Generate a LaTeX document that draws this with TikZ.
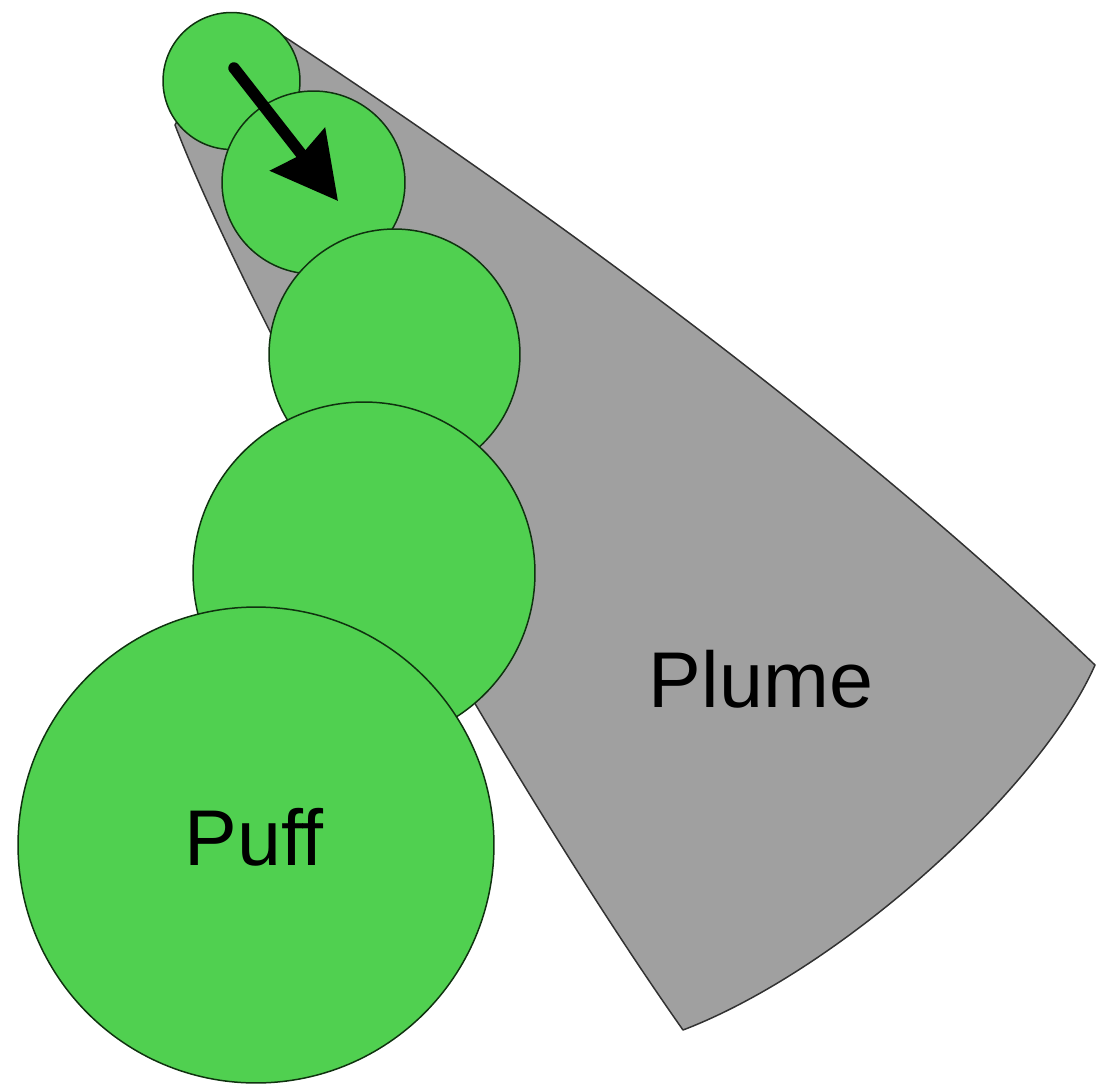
\documentclass[tikz,border=0pt]{standalone}
\usepackage{fontspec}
\setmainfont{Liberation Sans}[Ligatures=NoCommon]
\usetikzlibrary{arrows.meta}
\definecolor{puffgreen}{RGB}{80,208,80}
\definecolor{puffline}{RGB}{15,50,15}
\definecolor{plumegray}{RGB}{160,160,160}
\definecolor{plumeline}{RGB}{50,50,50}
\begin{document}
\begin{tikzpicture}[x=0.02cm,y=-0.02cm,
  puffc/.style={circle, draw=puffline, fill=puffgreen, line width=0.85pt, inner sep=0pt, outer sep=0pt},
  plumeshape/.style={draw=plumeline, fill=plumegray, line width=0.85pt, line join=round},
  lbl/.style={font=\fontsize{45}{50}\selectfont, anchor=base, inner sep=0pt},
  flowarrow/.style={line width=6.5pt, line cap=round, -{Stealth[length=1.3cm, width=1.36cm, inset=0.12cm]}}]
\useasboundingbox (0,0) rectangle (1098,1085);
% plume
\path[plumeshape] (175,125) .. controls (250,320) and (500,770) .. (683,1030)
  .. controls (840,970) and (1040,790) .. (1095,665)
  .. controls (870,450) and (580,230) .. (262,22) -- (205,70) -- cycle;
% puffs
\node[puffc, minimum size=2.74cm] (c1) at (231.5,81) {};
\node[puffc, minimum size=3.66cm] (c2) at (313.5,182.5) {};
\node[puffc, minimum size=5.02cm] (c3) at (394.5,354.5) {};
\node[puffc, minimum size=6.84cm] (c4) at (364,573) {};
\node[puffc, minimum size=9.52cm] (c5) at (256,845) {};
% arrow
\coordinate (arrS) at (234,68);
\coordinate (arrE) at (338,201);
\draw[flowarrow] (arrS) -- (arrE);
% labels
\node[lbl] (plume) at (761,707) {Plume};
\node[lbl] (puff) at (254,865) {Puff};
\end{tikzpicture}
\end{document}
